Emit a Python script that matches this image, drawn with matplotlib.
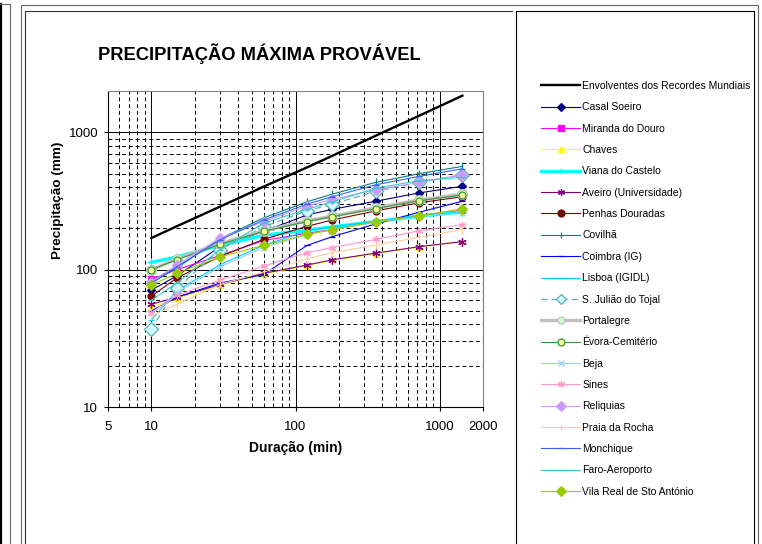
import matplotlib
matplotlib.use("Agg")
import matplotlib.pyplot as plt
from matplotlib.lines import Line2D
from matplotlib.ticker import FixedLocator, NullFormatter

plt.rcParams['font.family'] = ['Liberation Sans', 'DejaVu Sans']

# ---- dados ----
duracoes = [10, 15, 30, 60, 120, 180, 360, 720, 1440]

envolvente = [170, 207, 288, 402, 555, 675, 945, 1320, 1850]
casal_soeiro = [71, 90, 147, 190, 250, 275, 315, 362, 405]
miranda = [85, 100, 127, 163, 184, 196, 224, 248, 272]
chaves = [53, 62, 77, 93, 107, 117, 131, 146, 161]
viana = [113, 124, 150, 178, 194, 205, 224, 245, 263]
aveiro = [56, 63, 78, 94, 108, 118, 132, 147, 160]
penhas = [64, 87, 125, 166, 207, 230, 268, 307, 340]
covilha = [80, 103, 168, 238, 312, 355, 432, 500, 565]
coimbra = [50, 63, 80, 92, 150, 174, 215, 262, 315]
lisboa = [43, 70, 109, 150, 192, 205, 225, 248, 262]
s_juliao = [37, 73, 140, 205, 268, 300, 372, 432, 490]
portalegre = [100, 120, 155, 192, 227, 245, 282, 322, 355]
evora = [100, 118, 153, 190, 224, 243, 278, 318, 350]
beja = [48, 68, 105, 145, 180, 195, 222, 244, 260]
sines = [48, 65, 84, 106, 133, 145, 166, 192, 213]
reliquias = [82, 108, 170, 224, 290, 325, 382, 432, 492]
praia = [46, 56, 78, 96, 120, 133, 151, 172, 196]
monchique = [80, 105, 165, 230, 300, 340, 415, 478, 543]
faro = [60, 80, 140, 218, 275, 312, 392, 445, 470]
vila_real = [77, 94, 124, 150, 181, 195, 224, 246, 277]

nomes = ['Envolventes dos Recordes Mundiais', 'Casal Soeiro', 'Miranda do Douro',
         'Chaves', 'Viana do Castelo', 'Aveiro (Universidade)', 'Penhas Douradas',
         'Covilhã', 'Coimbra (IG)', 'Lisboa (IGIDL)', 'S. Julião do Tojal',
         'Portalegre', 'Évora-Cemitério', 'Beja', 'Sines', 'Reliquias',
         'Praia da Rocha', 'Monchique', 'Faro-Aeroporto', 'Vila Real de Sto António']
series = [envolvente, casal_soeiro, miranda, chaves, viana, aveiro, penhas,
          covilha, coimbra, lisboa, s_juliao, portalegre, evora, beja, sines,
          reliquias, praia, monchique, faro, vila_real]

# estilo de cada série: cor, largura, marcador, tamanho, cor interior, traço
estilos = [
    ('black', 1.7, None, 0, None, '-'),
    ('#000080', 0.8, 'D', 4, '#000080', '-'),
    ('#FF00FF', 0.8, 's', 5, '#FF00FF', '-'),
    ('#FFFF00', 0.8, '^', 5, '#FFFF00', '-'),
    ('#00FFFF', 2.4, '+', 6, '#00FFFF', '-'),
    ('#800080', 0.8, (6, 2, 0), 6, '#800080', '-'),
    ('#800000', 0.8, 'o', 5, '#800000', '-'),
    ('#008080', 0.8, '|', 6, '#008080', '-'),
    ('#0000FF', 0.8, '_', 5, '#0000FF', '-'),
    ('#00CCFF', 0.8, '_', 5, '#00CCFF', '-'),
    ('#5FAFAF', 0.9, 'D', 7, '#CCFFFF', (0, (5, 3))),
    ('#C0C0C0', 2.4, 'o', 7, '#CCFFCC', '-'),
    ('#339933', 0.8, 'o', 5, '#FFFF99', '-'),
    ('#99CCFF', 0.8, 'x', 5, '#99CCFF', '-'),
    ('#FF99CC', 0.8, (6, 2, 0), 5, '#FF99CC', '-'),
    ('#CC99FF', 0.8, 'D', 5, '#CC99FF', '-'),
    ('#FFCC99', 0.8, '|', 6, '#FFCC99', '-'),
    ('#3366FF', 0.8, '_', 5, '#3366FF', '-'),
    ('#33CCCC', 0.8, '_', 5, '#33CCCC', '-'),
    ('#99CC00', 0.8, 'D', 5, '#99CC00', '-'),
]

W, H = 762, 544
fig = plt.figure(figsize=(W / 100, H / 100), dpi=100)
fig.patch.set_facecolor('white')


def fx(x):
    return x / W


def fy(y):
    return 1 - y / H


def linha(xs, ys, cor, lw):
    fig.add_artist(Line2D([fx(v) for v in xs], [fy(v) for v in ys],
                          transform=fig.transFigure, color=cor, lw=lw))


# molduras à volta
linha([1, 1], [4, H], 'black', 1.6)
linha([0, 10, 10], [4, 4, H], '#666666', 0.8)
linha([21, 21, 758, 758], [H, 5, 5, H], '#666666', 0.8)
linha([25, 25, 512], [H, 11, 11], '#333333', 0.8)
linha([516, 516, 754, 754], [H, 11, 11, H], 'black', 0.8)

ax = fig.add_axes([fx(108), fy(407), (483 - 108) / W, (407 - 91) / H])

handles = []
for dados, nome, (cor, lw, mk, ms, fc, ls) in zip(series, nomes, estilos):
    h, = ax.plot(duracoes, dados, color=cor, lw=lw, ls=ls, marker=mk, ms=ms,
                 markerfacecolor=fc, markeredgecolor=cor, markeredgewidth=0.9,
                 label=nome)
    handles.append(h)

ax.set_xscale('log')
ax.set_yscale('log')
ax.set_xlim(5, 2000)
ax.set_ylim(10, 2000)

ax.xaxis.set_major_locator(FixedLocator([5, 10, 100, 1000, 2000]))
ax.set_xticklabels(['5', '10', '100', '1000', '2000'])
ax.xaxis.set_minor_locator(FixedLocator([6, 7, 8, 9] + list(range(20, 100, 10)) + list(range(200, 1000, 100))))
ax.xaxis.set_minor_formatter(NullFormatter())
ax.yaxis.set_major_locator(FixedLocator([10, 100, 1000]))
ax.set_yticklabels(['10', '100', '1000'])
ax.yaxis.set_minor_locator(FixedLocator(list(range(20, 100, 10)) + list(range(200, 1000, 100))))
ax.yaxis.set_minor_formatter(NullFormatter())

ax.tick_params(which='major', length=3, width=0.8, labelsize=9.5, pad=4)
ax.tick_params(axis='x', which='major', pad=7)
ax.tick_params(which='minor', length=0)

ax.set_axisbelow(True)
ax.grid(which='major', color='black', lw=0.7, ls='-')
ax.grid(which='minor', color='black', lw=0.7, ls=(0, (4, 3)))
ax.xaxis.grid(False, which='major')
for xv in [10, 100, 1000]:
    ax.axvline(xv, color='black', lw=0.7, zorder=0.5)

for s in ['top', 'right']:
    ax.spines[s].set_color('#808080')
    ax.spines[s].set_linewidth(0.8)
for s in ['left', 'bottom']:
    ax.spines[s].set_linewidth(0.8)

ax.set_xlabel('Duração (min)', fontsize=10, fontweight='bold')
ax.xaxis.set_label_coords(0.5, (407 - 448) / 316)
ax.xaxis.label.set_va('center')
ax.set_ylabel('Precipitação (mm)', fontsize=9.7, fontweight='bold')
ax.yaxis.set_label_coords((58 - 108) / 375, (407 - 200) / 316)
ax.yaxis.label.set_va('center')

fig.text(fx(259.5), fy(54), 'PRECIPITAÇÃO MÁXIMA PROVÁVEL', fontsize=13.2,
         fontweight='bold', ha='center', va='center')

leg = fig.legend(handles, nomes, loc='upper left', bbox_to_anchor=(fx(541), fy(81)),
                 frameon=False, fontsize=7.5, handlelength=3.75, handletextpad=0.2,
                 labelspacing=1.09, borderpad=0, borderaxespad=0)
for lh in leg.legend_handles:
    lh.set_markersize(min(lh.get_markersize(), 5))

fig.savefig('out.png', dpi=100)
